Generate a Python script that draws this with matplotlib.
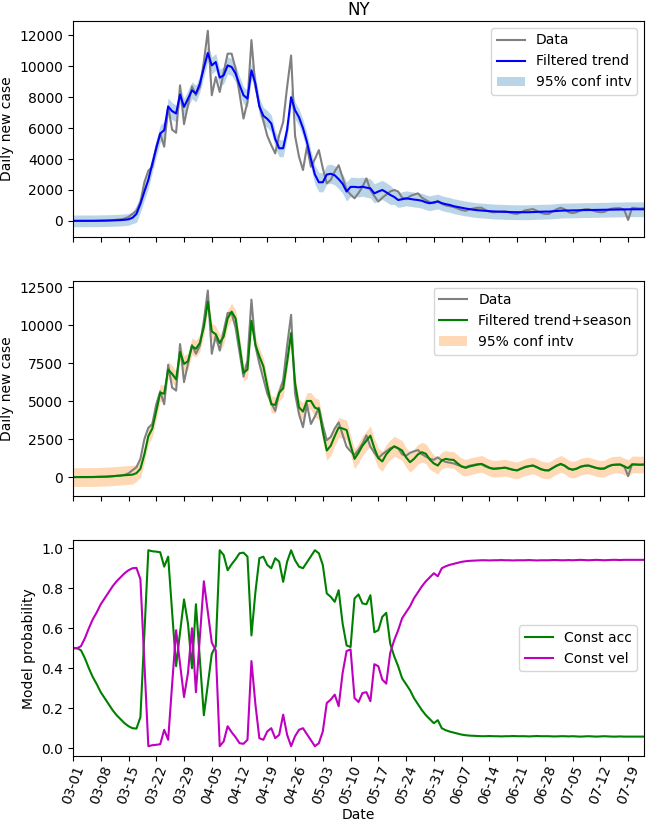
import matplotlib
matplotlib.use("Agg")
import matplotlib.pyplot as plt
import numpy as np
import pandas as pd

plt.rcParams['font.size'] = 10

# daily values, 2020-03-01 .. 2020-07-23
dates = pd.date_range("2020-03-01", periods=145, freq="D")

cases = [0, 0, 0, 1, 1, 0, 10, 20, 10, 30,
         50, 80, 100, 150, 250, 450, 650, 1200, 2500, 3250,
         3500, 4800, 5650, 4800, 7400, 5900, 5700, 8770, 6260, 7480,
         8710, 8130, 8670, 10300, 12300, 8130, 9310, 8340, 9630, 10820,
         10820, 9850, 8240, 6620, 7700, 11700, 8670, 7480, 6500, 5500,
         4900, 4365, 5550, 6400, 8670, 10700, 5500, 4150, 3290, 4800,
         3500, 4000, 4580, 3400, 2430, 2650, 3200, 3600, 2800, 2000,
         1700, 1460, 1800, 2200, 2750, 2000, 1600, 1250, 1500, 1700,
         1900, 2000, 1900, 1500, 1400, 1600, 1700, 1780, 1500, 1350,
         1200, 1140, 1300, 1100, 1000, 950, 900, 800, 700, 650,
         750, 800, 850, 850, 700, 600, 550, 580, 600, 620,
         550, 480, 450, 560, 680, 720, 760, 650, 520, 450,
         450, 620, 760, 850, 750, 560, 500, 560, 680, 750,
         760, 680, 600, 560, 580, 720, 800, 820, 820, 720,
         60, 850, 820, 800, 820]

trend = [0, 0, 0, 0, 0, 0, 5, 10, 15, 20,
         30, 40, 50, 70, 100, 200, 450, 1100, 1900, 2650,
         3700, 4700, 5650, 5870, 7400, 7100, 6950, 8170, 7380, 7900,
         8450, 8240, 8880, 9900, 10860, 10060, 10280, 9270, 9420, 10060,
         9960, 9530, 8800, 8130, 7910, 9740, 8880, 7400, 6800, 6600,
         6300, 5300, 4700, 4700, 5900, 8000, 7160, 6700, 6000, 5100,
         4000, 3000, 2500, 2500, 3000, 3050, 2950, 2700, 2400, 1900,
         2200, 2200, 2170, 2210, 2150, 2100, 1780, 1900, 2000, 1850,
         1680, 1550, 1350, 1400, 1460, 1420, 1380, 1350, 1300, 1200,
         1140, 1200, 1250, 1150, 1080, 1030, 950, 900, 850, 800,
         760, 720, 690, 670, 650, 630, 610, 600, 590, 580,
         570, 565, 560, 560, 560, 560, 570, 580, 590, 600,
         600, 620, 640, 660, 670, 670, 680, 680, 690, 700,
         700, 705, 710, 715, 720, 725, 730, 735, 740, 745,
         750, 750, 750, 750, 750]
trend_ci = [380] * 16 + [550] * 45 + [620] * 20 + [480] * 64

trend_season = [0, 0, 0, 0, 0, 5, 10, 20, 30, 40,
                60, 80, 100, 120, 140, 160, 260, 545, 1500, 2700,
                3200, 4360, 5560, 5500, 7090, 6800, 6440, 8250, 7460, 7640,
                8620, 8460, 8840, 9900, 11560, 9600, 9420, 8840, 9270, 10470,
                10910, 10470, 8700, 6870, 7090, 10300, 8730, 7960, 7310, 6000,
                4800, 4760, 5560, 5850, 7600, 9490, 6200, 4600, 4320, 5020,
                5020, 4580, 4470, 3000, 1750, 2070, 2700, 3270, 3200, 3100,
                2100, 1200, 1600, 2070, 2400, 2730, 1900, 1250, 1030, 1500,
                1800, 2030, 1900, 1750, 1300, 980, 1200, 1500, 1640, 1530,
                1150, 900, 760, 1100, 1200, 1150, 1130, 900, 700, 610,
                700, 760, 820, 870, 750, 620, 545, 560, 590, 620,
                550, 480, 440, 550, 650, 720, 760, 650, 520, 450,
                440, 600, 750, 870, 750, 560, 480, 550, 680, 740,
                760, 680, 600, 545, 560, 700, 800, 820, 830, 700,
                590, 830, 830, 820, 830]
season_ci = [620] * 16 + [550] * 45 + [650] * 30 + [550] * 54

p_const_acc = [0.5, 0.5, 0.49, 0.45, 0.40, 0.355, 0.32, 0.28, 0.25, 0.22,
               0.19, 0.165, 0.145, 0.125, 0.11, 0.10, 0.098, 0.155, 0.57, 0.99,
               0.985, 0.983, 0.98, 0.908, 0.958, 0.68, 0.41, 0.58, 0.744, 0.623,
               0.40, 0.72, 0.44, 0.165, 0.32, 0.472, 0.51, 0.99, 0.966, 0.89,
               0.92, 0.945, 0.975, 0.978, 0.958, 0.564, 0.78, 0.95, 0.958, 0.916,
               0.9, 0.95, 0.933, 0.832, 0.933, 0.99, 0.94, 0.908, 0.9, 0.93,
               0.96, 0.99, 0.975, 0.916, 0.774, 0.757, 0.732, 0.79, 0.623, 0.514,
               0.506, 0.749, 0.769, 0.724, 0.72, 0.765, 0.58, 0.59, 0.657, 0.677,
               0.523, 0.46, 0.41, 0.35, 0.32, 0.29, 0.25, 0.22, 0.19, 0.165,
               0.145, 0.125, 0.14, 0.1, 0.09, 0.083, 0.078, 0.073, 0.068, 0.065,
               0.063, 0.062, 0.061, 0.06, 0.06, 0.061, 0.06, 0.06, 0.059, 0.06,
               0.06, 0.061, 0.06, 0.06, 0.06, 0.059, 0.06, 0.061, 0.06, 0.06,
               0.06, 0.059, 0.059, 0.06, 0.06, 0.059, 0.06, 0.059, 0.058, 0.059,
               0.06, 0.059, 0.058, 0.059, 0.06, 0.059, 0.058, 0.058, 0.059, 0.058,
               0.058, 0.058, 0.058, 0.058, 0.058]
# two-model filter: probabilities sum to one
p_const_vel = [1 - p for p in p_const_acc]

cases = np.array(cases, dtype=float)
trend = np.array(trend, dtype=float)
trend_ci = np.array(trend_ci, dtype=float)
trend_season = np.array(trend_season, dtype=float)
season_ci = np.array(season_ci, dtype=float)

fig, axes = plt.subplots(3, 1, sharex=True, figsize=(6.46, 8.25), dpi=100)
fig.subplots_adjust(left=73/646, right=644/646, top=1-21/825, bottom=1-756/825,
                    hspace=0.205)

ax = axes[0]
ax.plot(dates, cases, color='gray', lw=1.5, label='Data')
ax.plot(dates, trend, color='b', lw=1.5, label='Filtered trend')
ax.fill_between(dates, trend - trend_ci, trend + trend_ci, color='C0', alpha=0.3,
                lw=0, label='95% conf intv')
ax.set_ylabel('Daily new case')
ax.set_title('NY', pad=4)
ax.legend(loc='upper right')

ax = axes[1]
ax.plot(dates, cases, color='gray', lw=1.5, label='Data')
ax.plot(dates, trend_season, color='g', lw=1.5, label='Filtered trend+season')
ax.fill_between(dates, trend_season - season_ci, trend_season + season_ci,
                color='C1', alpha=0.3, lw=0, label='95% conf intv')
ax.set_ylabel('Daily new case')
ax.legend(loc='upper right')

ax = axes[2]
ax.plot(dates, p_const_acc, color='g', lw=1.5, label='Const acc')
ax.plot(dates, p_const_vel, color='m', lw=1.5, label='Const vel')
ax.set_ylabel('Model probability')
ax.set_xlabel('Date', labelpad=1)
ax.legend(loc='center right')

ax.set_xticks(dates[::7])
ax.set_xticklabels([d.strftime('%m-%d') for d in dates[::7]], rotation=70)
ax.tick_params(axis='x', pad=2)
ax.set_xlim(dates[0], dates[-1])

fig.savefig('out.png', dpi=100)
